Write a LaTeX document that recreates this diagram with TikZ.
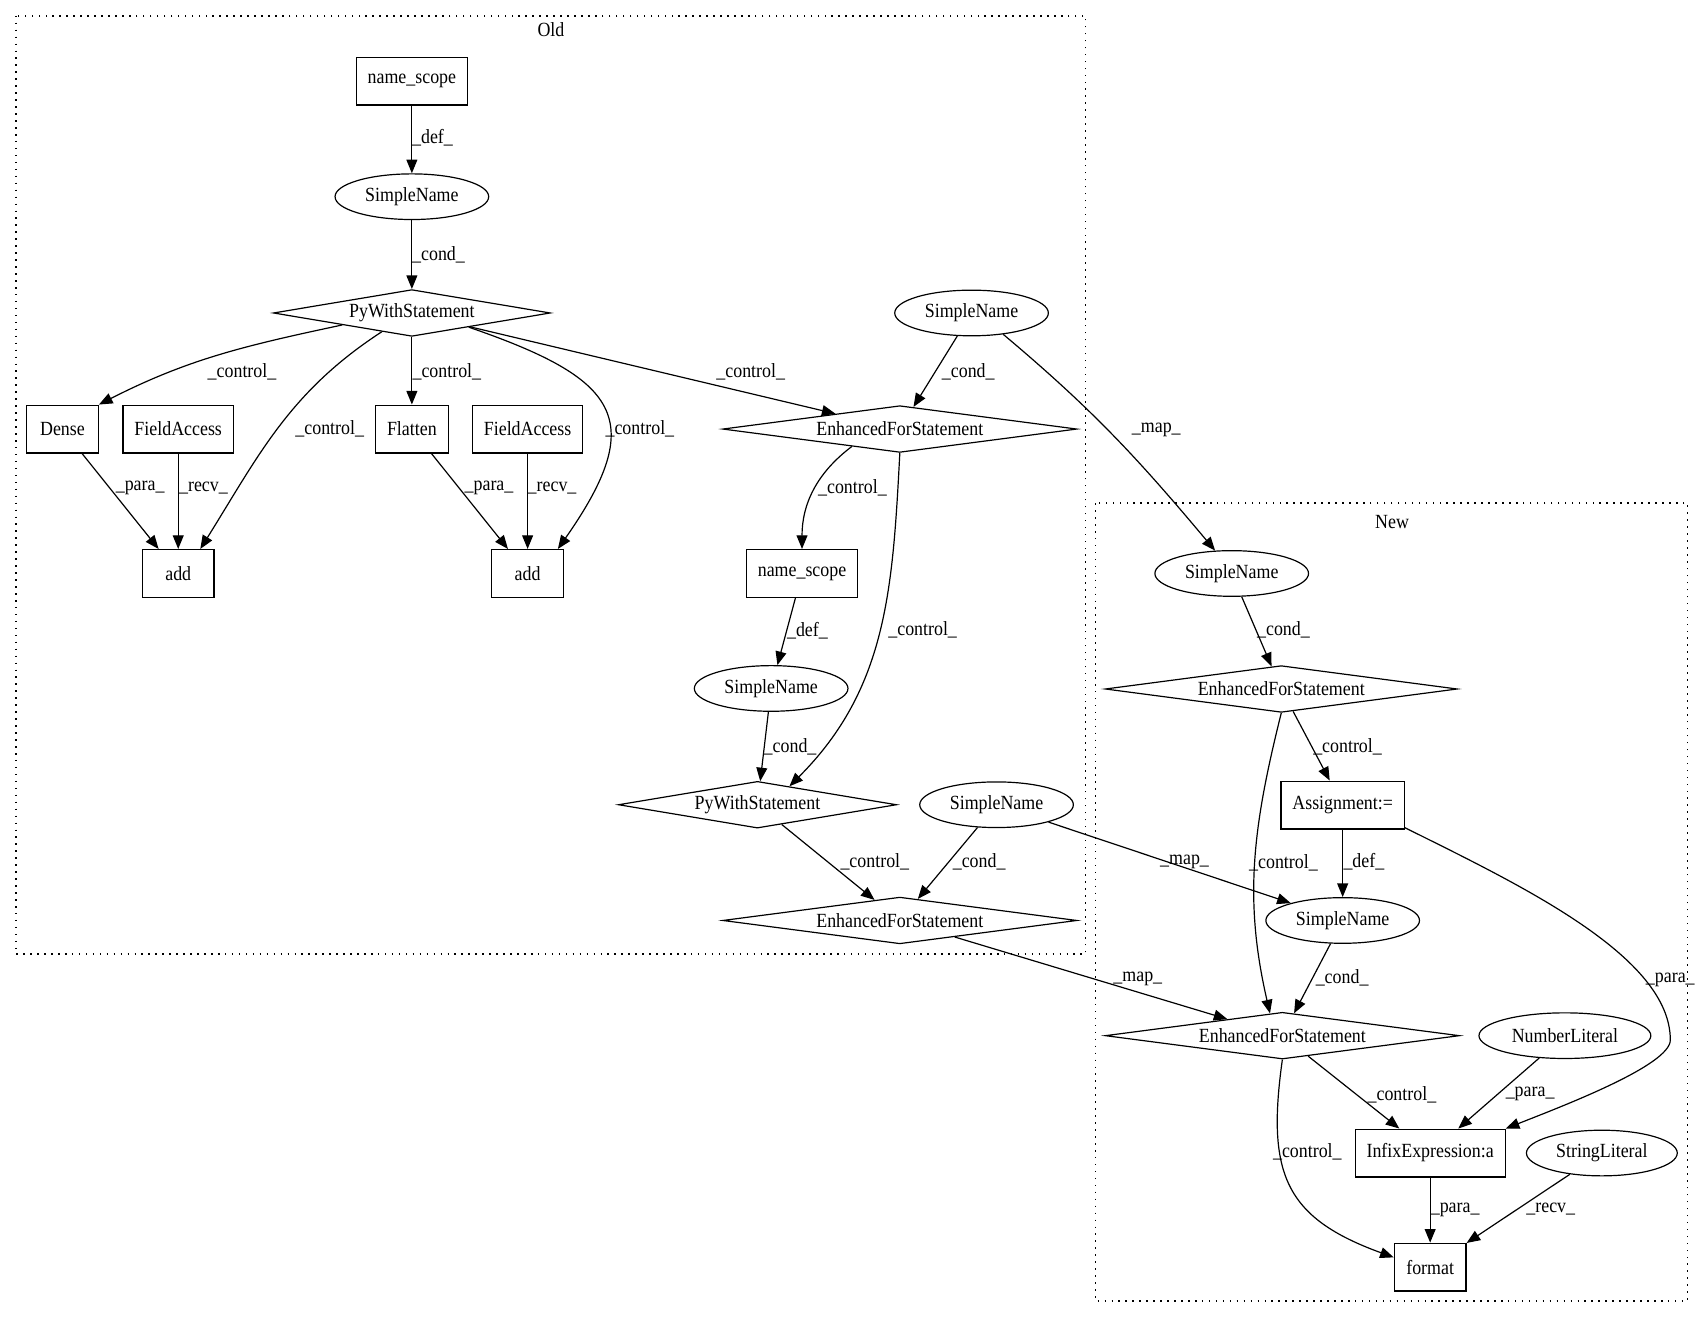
\documentclass[tikz,border=0pt]{standalone}
\usepackage{fontspec}
\setmainfont{Liberation Serif}[FakeStretch=0.89]
\usetikzlibrary{positioning, shapes.geometric, arrows.meta}

\begin{document}
\begin{tikzpicture}[
        x=1pt, y=-1pt,
        font=\fontsize{18.5}{21}\selectfont,
        line width=1.1pt,
        box/.style={rectangle, draw, inner xsep=10.5pt, minimum width=66pt, minimum height=44pt},
        oval/.style={ellipse, draw, inner xsep=7pt, inner ysep=1pt, minimum height=42pt},
        choice/.style={diamond, draw, aspect=7, inner sep=0pt, minimum height=43pt},
        cluster/.style={draw, line width=1.4pt, dash pattern=on 1.4pt off 5pt},
        arrow/.style={-{Triangle[length=12.5pt, width=10pt]}},
        elabel/.style={inner sep=0pt}
    ]
    \useasboundingbox (0,0) rectangle (1568,1215);
    \fill [white] (0,0) rectangle (1568,1215);

    % Clusters
    \draw [cluster] (14.5,14.5) rectangle (999,878);
    \node (old) at (507,27) {Old};
    \draw [cluster] (1008,463) rectangle (1553,1197);
    \node (new) at (1281,480) {New};

    % Nodes
    \node (nscope1) [box] at (379,74.6) {name\_scope};
    \node (sname1) [oval] at (379,181) {SimpleName};
    \node (pywith1) [choice, minimum width=255pt] at (379,288) {PyWithStatement};
    \node (dense) [box] at (57.5,394.8) {Dense};
    \node (field1) [box] at (164,394.8) {FieldAccess};
    \node (flatten) [box] at (379,394.8) {Flatten};
    \node (field2) [box] at (485.5,394.8) {FieldAccess};
    \node (add1) [box] at (164,527.7) {add};
    \node (add2) [box] at (485.5,527.7) {add};
    \node (sname2) [oval] at (894,288) {SimpleName};
    \node (efor1) [choice, minimum width=326pt] at (828,394.8) {EnhancedForStatement};
    \node (nscope2) [box] at (738,527.7) {name\_scope};
    \node (sname3) [oval] at (709.6,633.5) {SimpleName};
    \node (pywith2) [choice, minimum width=256pt] at (697,740.5) {PyWithStatement};
    \node (sname4) [oval] at (917,740.5) {SimpleName};
    \node (efor2) [choice, minimum width=326pt] at (828,847) {EnhancedForStatement};

    \node (sname5) [oval] at (1133.4,527.7) {SimpleName};
    \node (efor3) [choice, minimum width=324pt] at (1179,634) {EnhancedForStatement};
    \node (assign) [box] at (1235.5,740.8) {Assignment:=};
    \node (sname6) [oval] at (1235.5,847) {SimpleName};
    \node (efor4) [choice, minimum width=326pt] at (1180,953) {EnhancedForStatement};
    \node (numlit) [oval] at (1440,953) {NumberLiteral};
    \node (infix) [box] at (1316,1061) {InfixExpression:a};
    \node (strlit) [oval] at (1474,1061) {StringLiteral};
    \node (format) [box] at (1316,1166) {format};

    % Arrows
    \draw [arrow] (nscope1) -- (sname1) node [elabel] at (398,127) {\_def\_};
    \draw [arrow] (sname1) -- (pywith1) node [elabel] at (403.5,234.7) {\_cond\_};
    \draw [arrow] (pywith1.south west) to [out=192, in=27] (dense.north east) node [elabel] at (222.7,342) {\_control\_};
    \draw [arrow] (pywith1.212) to [out=213, in=58] (add1.48) node [elabel] at (303.4,394.8) {\_control\_};
    \draw [arrow] (pywith1) -- (flatten) node [elabel] at (411.2,342) {\_control\_};
    \draw [arrow] (pywith1.346) to [out=-19, in=55, looseness=1.7] (add2.39) node [elabel] at (588.8,394.8) {\_control\_};
    \draw [arrow] (pywith1) -- (efor1) node [elabel] at (690.8,342) {\_control\_};
    \draw [arrow] (dense) -- (add1) node [elabel] at (129,448.7) {\_para\_};
    \draw [arrow] (field1) -- (add1) node [elabel] at (187.2,448.7) {\_recv\_};
    \draw [arrow] (flatten) -- (add2) node [elabel] at (450,448.7) {\_para\_};
    \draw [arrow] (field2) -- (add2) node [elabel] at (508,448.7) {\_recv\_};
    \draw [arrow] (sname2) -- (efor1) node [elabel] at (891,342) {\_cond\_};
    \draw [arrow] (sname2.-34) to [out=-40, in=130] (sname5.126) node [elabel] at (1064,396) {\_map\_};
    \draw [arrow] (efor1.200) to [out=217, in=90] (nscope2.north) node [elabel] at (784.4,448.7) {\_control\_};
    \draw [arrow] (efor1.south) to [out=-93, in=45] (pywith2.30) node [elabel] at (849,580) {\_control\_};
    \draw [arrow] (nscope2) -- (sname3) node [elabel] at (743,580) {\_def\_};
    \draw [arrow] (sname3) -- (pywith2) node [elabel] at (727,687) {\_cond\_};
    \draw [arrow] (pywith2) -- (efor2) node [elabel] at (805,793) {\_control\_};
    \draw [arrow] (sname4) -- (efor2) node [elabel] at (901,793) {\_cond\_};
    \draw [arrow] (sname4) -- (sname6) node [elabel] at (1090,793) {\_map\_};
    \draw [arrow] (efor2) -- (efor4) node [elabel] at (1047,901) {\_map\_};

    \draw [arrow] (sname5) -- (efor3) node [elabel] at (1181,580) {\_cond\_};
    \draw [arrow] (efor3) -- (assign) node [elabel] at (1240,687) {\_control\_};
    \draw [arrow] (efor3.south) to [out=256, in=103] (efor4.119) node [elabel] at (1181,794) {\_control\_};
    \draw [arrow] (assign) -- (sname6) node [elabel] at (1255,793) {\_def\_};
    \draw [arrow] (assign.-20) .. controls (1400,815) and (1537,880) .. (1537,957)
        .. controls (1537,980) and (1440,1017) .. (infix.north east) node [elabel] at (1537,902) {\_para\_};
    \draw [arrow] (sname6) -- (efor4) node [elabel] at (1235,900) {\_cond\_};
    \draw [arrow] (efor4) -- (infix) node [elabel] at (1290,1007) {\_control\_};
    \draw [arrow] (numlit) -- (infix) node [elabel] at (1408,1007) {\_para\_};
    \draw [arrow] (efor4.south) to [out=262, in=160, looseness=1.3] (format.165) node [elabel] at (1203,1060) {\_control\_};
    \draw [arrow] (infix) -- (format) node [elabel] at (1339,1113) {\_para\_};
    \draw [arrow] (strlit) -- (format) node [elabel] at (1427,1113) {\_recv\_};

\end{tikzpicture}
\end{document}
